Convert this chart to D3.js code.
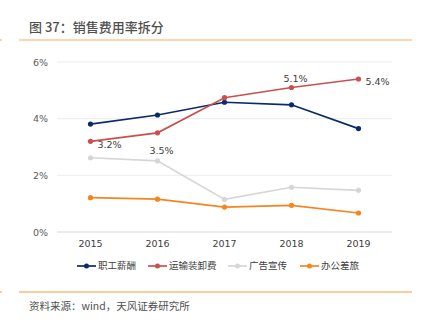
<!DOCTYPE html>
<html>
<head>
<meta charset="utf-8">
<script src="https://cdn.jsdelivr.net/npm/d3@7"></script>
<style>
  html, body { margin: 0; padding: 0; background: #fff; }
  svg { display: block; }
  text { font-family: "Noto Sans CJK SC", "DejaVu Sans", sans-serif; }
</style>
</head>
<body>
<svg id="chart" width="421" height="325"></svg>
<script>
// Years on the category axis
const years = ["2015", "2016", "2017", "2018", "2019"];
// Sales expense ratio components (% of revenue)
const staffPay = [3.81, 4.13, 4.58, 4.49, 3.65];
const freight = [3.2, 3.5, 4.74, 5.1, 5.4];
const advertising = [2.62, 2.51, 1.15, 1.58, 1.47];
const officeTravel = [1.21, 1.16, 0.88, 0.94, 0.67];
const seriesNames = ["职工薪酬", "运输装卸费", "广告宣传", "办公差旅"];
const seriesColors = ["#0B2A6B", "#C9504D", "#D6D6D6", "#F5851F"];
const yTicks = [0, 2, 4, 6];

const seriesData = [staffPay, freight, advertising, officeTravel];

const svg = d3.select("#chart");

// Header and footer rules
svg.append("line").attr("x1", 19).attr("x2", 412).attr("y1", 40).attr("y2", 40)
  .attr("stroke", "#FBC896").attr("stroke-width", 1.6);
svg.append("line").attr("x1", 0).attr("x2", 2).attr("y1", 40).attr("y2", 40)
  .attr("stroke", "#FBC896").attr("stroke-width", 1.6);
svg.append("line").attr("x1", 19).attr("x2", 412).attr("y1", 292).attr("y2", 292)
  .attr("stroke", "#F59A3F").attr("stroke-width", 1);
svg.append("line").attr("x1", 0).attr("x2", 2).attr("y1", 292).attr("y2", 292)
  .attr("stroke", "#F59A3F").attr("stroke-width", 1);

svg.append("text").attr("x", 29).attr("y", 32)
  .attr("font-size", 13).attr("font-weight", 500).attr("fill", "#505050")
  .text("图 37：销售费用率拆分");

svg.append("text").attr("x", 29).attr("y", 310)
  .attr("font-size", 10.5).attr("fill", "#505050")
  .text("资料来源：wind，天风证券研究所");

// Scales
const x = d3.scaleBand().domain(years).range([57, 392]);
const y = d3.scaleLinear().domain([0, 6]).range([232, 62]);
const cx = d => x(d) + x.bandwidth() / 2;

// Gridlines
svg.append("g").selectAll("line").data(yTicks).join("line")
  .attr("x1", 57).attr("x2", 392)
  .attr("y1", d => y(d)).attr("y2", d => y(d))
  .attr("stroke", d => d === 0 ? "#D9D9D9" : "#EDEDED").attr("stroke-width", 1);

// Y axis labels
const yAxis = d3.axisLeft(y).tickValues(yTicks).tickFormat(d => d + "%").tickSize(0).tickPadding(9);
const gy = svg.append("g").attr("transform", "translate(57,0)").call(yAxis);
gy.select(".domain").remove();
gy.selectAll("text").attr("font-size", 9.5).attr("fill", "#595959")
  .style("font-family", "'DejaVu Sans', sans-serif");

// X axis labels
const xAxis = d3.axisBottom(x).tickSize(0).tickPadding(8);
const gx = svg.append("g").attr("transform", "translate(0,232)").call(xAxis);
gx.select(".domain").remove();
gx.selectAll("text").attr("font-size", 9.5).attr("fill", "#404040")
  .style("font-family", "'DejaVu Sans', sans-serif");

// Series lines and markers
const line = d3.line().x((d, i) => cx(years[i])).y(d => y(d));
seriesData.forEach((vals, si) => {
  const g = svg.append("g");
  g.append("path").datum(vals).attr("d", line)
    .attr("fill", "none").attr("stroke", seriesColors[si]).attr("stroke-width", 1.7);
  g.selectAll("circle").data(vals).join("circle")
    .attr("cx", (d, i) => cx(years[i])).attr("cy", d => y(d)).attr("r", 2.6)
    .attr("fill", seriesColors[si]);
});

// Value labels on freight series
const labelSpec = [
  { i: 0, dx: 19, dy: 4, anchor: "middle" },
  { i: 1, dx: 4, dy: 19, anchor: "middle" },
  { i: 3, dx: 4, dy: -8, anchor: "middle" },
  { i: 4, dx: 19, dy: 3, anchor: "middle" }
];
svg.append("g").selectAll("text").data(labelSpec).join("text")
  .attr("x", d => cx(years[d.i]) + d.dx)
  .attr("y", d => y(freight[d.i]) + d.dy)
  .attr("text-anchor", d => d.anchor)
  .attr("dominant-baseline", "middle")
  .attr("font-size", 9.5).attr("fill", "#404040")
  .style("font-family", "'DejaVu Sans', sans-serif")
  .text(d => freight[d.i].toFixed(1) + "%");

// Legend
const legendX = [77, 148, 228, 300];
const lg = svg.append("g").attr("transform", "translate(0,266)");
seriesNames.forEach((name, i) => {
  const g = lg.append("g").attr("transform", `translate(${legendX[i]},0)`);
  g.append("line").attr("x1", 0).attr("x2", 19).attr("y1", 0).attr("y2", 0)
    .attr("stroke", seriesColors[i]).attr("stroke-width", 1.7);
  g.append("circle").attr("cx", 9.5).attr("cy", 0).attr("r", 2.5).attr("fill", seriesColors[i]);
  g.append("text").attr("x", 21).attr("y", 0).attr("dominant-baseline", "middle")
    .attr("font-size", 9.5).attr("fill", "#404040").text(name);
});
</script>
</body>
</html>
